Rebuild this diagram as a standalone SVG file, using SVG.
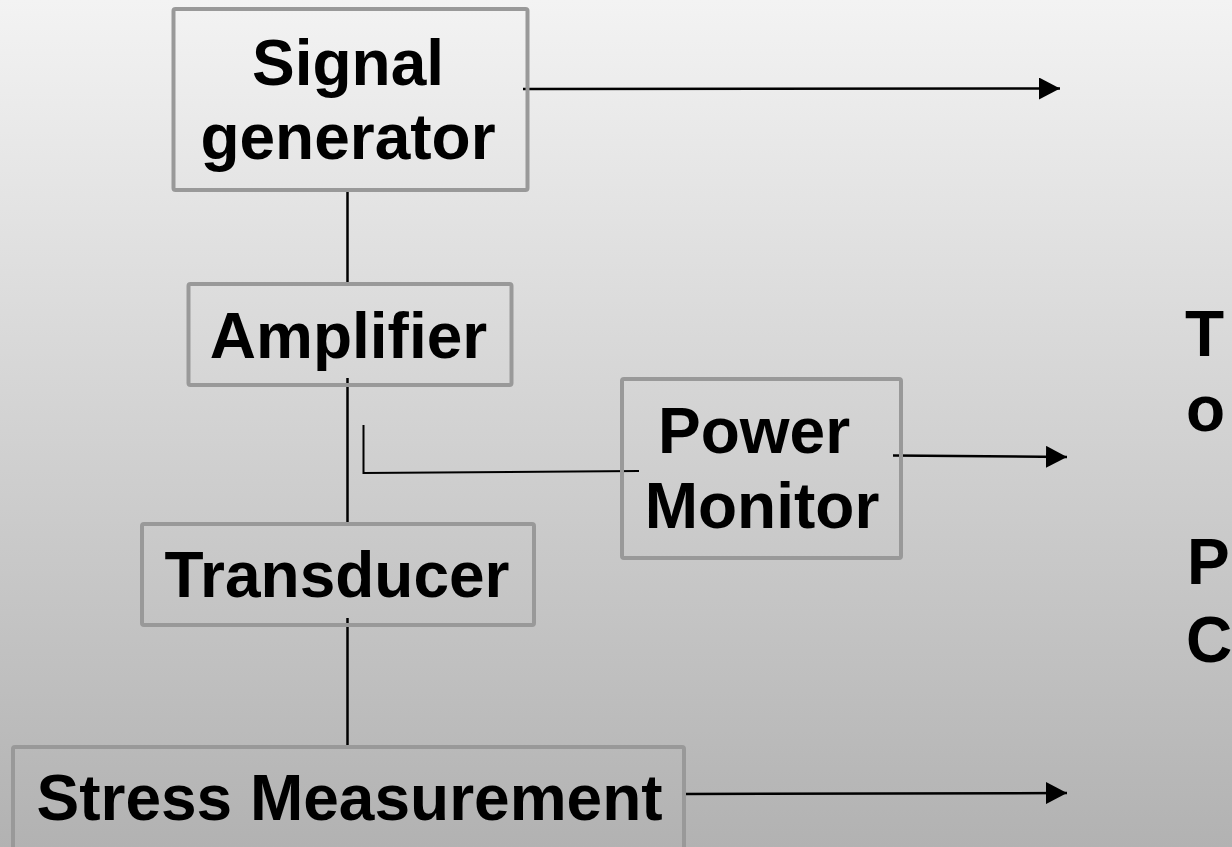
<svg xmlns="http://www.w3.org/2000/svg" width="1232" height="847" viewBox="0 0 1232 847">
  <defs>
    <linearGradient id="bg" x1="0" y1="0" x2="0" y2="1">
      <stop offset="0" stop-color="#f3f3f3"/>
      <stop offset="1" stop-color="#b2b2b2"/>
    </linearGradient>
    <marker id="arrow" markerUnits="userSpaceOnUse" markerWidth="22" markerHeight="22" refX="21" refY="11" orient="auto">
      <path d="M0,0 L21,11 L0,22 Z" fill="#000"/>
    </marker>
    <style>
      .box { fill: none; stroke: #999999; stroke-width: 4; }
      .lbl { font-family: "Liberation Sans", Arial, sans-serif; font-weight: bold; font-size: 64px; fill: #000; text-anchor: middle; }
      .side { font-family: "Liberation Sans", Arial, sans-serif; font-weight: bold; font-size: 64px; fill: #000; }
      .wire { fill: none; stroke: #000; stroke-width: 2.5; }
      .thin { fill: none; stroke: #000; stroke-width: 2; }
    </style>
  </defs>
  <rect x="0" y="0" width="1232" height="847" fill="url(#bg)"/>

  <g id="connectors">
    <line class="wire" x1="347.5" y1="191" x2="347.5" y2="283"/>
    <line class="wire" x1="347.5" y1="378" x2="347.5" y2="522"/>
    <line class="wire" x1="347.5" y1="618" x2="347.5" y2="746"/>
    <path class="thin" d="M363.5,425 L363.5,473 L639,471"/>
    <line class="wire" x1="523" y1="89" x2="1060" y2="88.5" marker-end="url(#arrow)"/>
    <line class="wire" x1="893" y1="455.5" x2="1067" y2="457" marker-end="url(#arrow)"/>
    <line class="wire" x1="683" y1="794" x2="1067" y2="793" marker-end="url(#arrow)"/>
  </g>

  <g id="signal-generator">
    <rect class="box" x="173.5" y="9" width="354" height="181" rx="2"/>
    <text class="lbl" x="348" y="85">Signal</text>
    <text class="lbl" x="348" y="159">generator</text>
  </g>

  <g id="amplifier">
    <rect class="box" x="188.5" y="284" width="323" height="101" rx="2"/>
    <text class="lbl" x="348.5" y="358">Amplifier</text>
  </g>

  <g id="power-monitor">
    <rect class="box" x="622" y="379" width="279" height="179" rx="2"/>
    <text class="lbl" x="754" y="453">Power</text>
    <text class="lbl" x="762" y="528">Monitor</text>
  </g>

  <g id="transducer">
    <rect class="box" x="142" y="524" width="392" height="101" rx="2"/>
    <text class="lbl" x="337" y="597">Transducer</text>
  </g>

  <g id="stress-measurement">
    <rect class="box" x="13" y="747" width="671" height="120" rx="2"/>
    <text class="lbl" x="349.5" y="820">Stress Measurement</text>
  </g>

  <g id="to-pc">
    <text class="side" x="1185" y="356">T</text>
    <text class="side" x="1186" y="431">o</text>
    <text class="side" x="1187" y="584">P</text>
    <text class="side" x="1186" y="662">C</text>
  </g>
</svg>
